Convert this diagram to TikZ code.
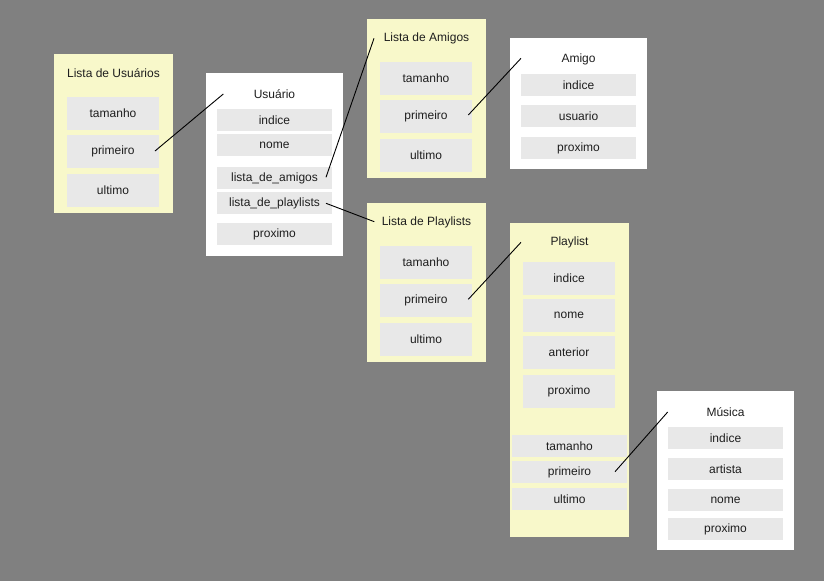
\documentclass[tikz,border=0pt]{standalone}
\usepackage{fontspec}
\setmainfont{Liberation Sans}
\definecolor{bg}{HTML}{808080}
\definecolor{yel}{HTML}{F8F8CA}
\definecolor{fld}{HTML}{E8E8E8}
\definecolor{txt}{HTML}{1E1E1E}
\tikzset{
  panel/.style={draw=none, inner sep=0pt, anchor=center},
  fieldbox/.style={fill=fld, draw=none, inner sep=0pt, text=txt, font=\fontsize{12}{14}\selectfont, anchor=center},
  ttl/.style={inner sep=0pt, text=txt, font=\fontsize{12}{14}\selectfont, anchor=center},
  link/.style={draw=black, line width=0.9pt}
}
% \pnl{name}{x1}{y1}{x2}{y2}{color}
\newcommand{\pnl}[6]{\node[panel, fill=#6, minimum width={(#4)-(#2)}, minimum height={(#5)-(#3)}] (#1) at ({((#2)+(#4))/2},{((#3)+(#5))/2}) {};}
\newcommand{\fldn}[6]{\node[fieldbox, minimum width={(#4)-(#2)}, minimum height={(#5)-(#3)}] (#1) at ({((#2)+(#4))/2},{((#3)+(#5))/2}) {#6};}
\begin{document}
\begin{tikzpicture}[x=1pt,y=-1pt]
\fill[bg] (0,0) rectangle (824,581);
\useasboundingbox (0,0) rectangle (824,581);
% Lista de Usuarios
\pnl{lu}{54}{54}{173}{213}{yel}
\node[ttl] (lut) at (113.5,73) {Lista de Usuários};
\fldn{lutam}{67}{97}{159}{130}{tamanho}
\fldn{lupri}{67}{135}{159}{168}{primeiro}
\fldn{luult}{67}{174}{159}{207}{ultimo}
% Usuario
\pnl{us}{206}{73}{343}{256}{white}
\node[ttl] (ust) at (274.5,94) {Usuário};
\fldn{usind}{217}{109}{332}{131}{indice}
\fldn{usnom}{217}{134}{332}{156}{nome}
\fldn{usla}{217}{167}{332}{189}{lista\_de\_amigos}
\fldn{uslp}{217}{192}{332}{214}{lista\_de\_playlists}
\fldn{usprox}{217}{223}{332}{245}{proximo}
% Lista de Amigos
\pnl{la}{367}{19}{486}{178}{yel}
\node[ttl] (lat) at (426.5,38) {Lista de Amigos};
\fldn{latam}{380}{62}{472}{95}{tamanho}
\fldn{lapri}{380}{100}{472}{133}{primeiro}
\fldn{lault}{380}{139}{472}{172}{ultimo}
% Amigo
\pnl{am}{510}{38}{647}{169}{white}
\node[ttl] (amt) at (578.5,59) {Amigo};
\fldn{amind}{521}{74}{636}{96}{indice}
\fldn{amusu}{521}{105}{636}{127}{usuario}
\fldn{amprox}{521}{137}{636}{159}{proximo}
% Lista de Playlists
\pnl{lp}{367}{203}{486}{362}{yel}
\node[ttl] (lpt) at (426.5,222) {Lista de Playlists};
\fldn{lptam}{380}{246}{472}{279}{tamanho}
\fldn{lppri}{380}{284}{472}{317}{primeiro}
\fldn{lpult}{380}{323}{472}{356}{ultimo}
% Playlist
\pnl{pl}{510}{223}{629}{537}{yel}
\node[ttl] (plt) at (569.5,242) {Playlist};
\fldn{plind}{523}{262}{615}{295}{indice}
\fldn{plnom}{523}{299}{615}{332}{nome}
\fldn{plant}{523}{336}{615}{369}{anterior}
\fldn{plprox}{523}{375}{615}{408}{proximo}
\fldn{pltam}{512}{435}{627}{457}{tamanho}
\fldn{plpri}{512}{461}{627}{483}{primeiro}
\fldn{plult}{512}{488}{627}{510}{ultimo}
% Musica
\pnl{mu}{657}{391}{794}{550}{white}
\node[ttl] (mut) at (725.5,412) {Música};
\fldn{muind}{668}{427}{783}{449}{indice}
\fldn{muart}{668}{458}{783}{480}{artista}
\fldn{munom}{668}{489}{783}{511}{nome}
\fldn{muprox}{668}{518}{783}{540}{proximo}
% connector end points
\coordinate (a1) at (155,151);
\coordinate (b1) at (223.3,94);
\coordinate (a2) at (326,177.3);
\coordinate (b2) at (374,38.3);
\coordinate (a3) at (326,203.3);
\coordinate (b3) at (374.3,221.7);
\coordinate (a4) at (468.3,115);
\coordinate (b4) at (521,58.3);
\coordinate (a5) at (468.3,299.3);
\coordinate (b5) at (521,242.3);
\coordinate (a6) at (615,471.7);
\coordinate (b6) at (667.7,412);
\draw[link] (a1) -- (b1);
\draw[link] (a2) -- (b2);
\draw[link] (a3) -- (b3);
\draw[link] (a4) -- (b4);
\draw[link] (a5) -- (b5);
\draw[link] (a6) -- (b6);
\end{tikzpicture}
\end{document}
